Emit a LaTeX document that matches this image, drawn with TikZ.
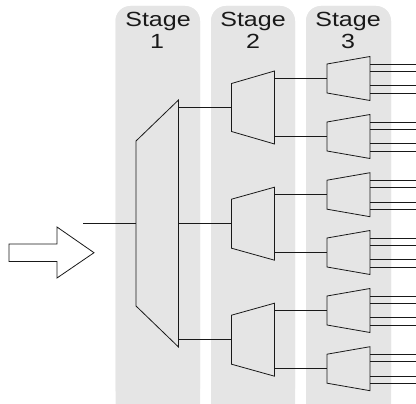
\documentclass[tikz,border=0pt]{standalone}
\usepackage{fontspec}
\setmainfont{Liberation Sans}
\definecolor{panel}{RGB}{229,229,229}
\definecolor{ink}{RGB}{25,25,25}
\tikzset{
  panelbox/.style={fill=panel,draw=none,rounded corners=15pt},
  stagetext/.style={anchor=base,inner sep=0pt,text=ink,xscale=1.22,font=\fontsize{20.5}{22}\selectfont},
  muxshape/.style={draw=ink,line width=0.8pt,line join=miter},
  wire/.style={draw=ink,line width=0.75pt},
  bigarrow/.style={draw=ink,line width=0.8pt,fill=white,line join=miter}
}
% name, xleft, xright, ycentre, left half height, right half height
\newcommand{\muxat}[6]{%
  \coordinate (#1-in) at (#2,#4);
  \coordinate (#1-out) at (#3,#4);
  \draw[muxshape] (#2,#4-#5) -- (#3,#4-#6) -- (#3,#4+#6) -- (#2,#4+#5) -- cycle;
}
% four output wires of a stage 3 unit
\newcommand{\outs}[1]{%
  \foreach \d/\n in {-14.6/a,-7.3/b,7.3/c,14.6/d}{
    \coordinate (#1-e\n) at (416,{\ypos{#1}+\d});
  }
}
\begin{document}
\begin{tikzpicture}[x=1pt,y=-1pt]
\useasboundingbox (0,0) rectangle (416,404);
\fill[panelbox] (115.5,6) rectangle (200,420);
\fill[panelbox] (211,6) rectangle (295,420);
\fill[panelbox] (306,6) rectangle (391,420);
\clip (0,0) rectangle (416,404);
\fill[panelbox] (115.5,6) rectangle (200,403.5);
\fill[panelbox] (211,6) rectangle (295,403.5);
\fill[panelbox] (306,6) rectangle (391,403.5);

\node[stagetext] (t1a) at (158,27) {Stage};
\node[stagetext] (t1b) at (157,49) {1};
\node[stagetext] (t2a) at (253,27) {Stage};
\node[stagetext] (t2b) at (253,49) {2};
\node[stagetext] (t3a) at (348,27) {Stage};
\node[stagetext] (t3b) at (348,49) {3};

% stage 1
\coordinate (m1-in) at (136,223.7);
\coordinate (m1-out) at (178.5,223.7);
\coordinate (src) at (83,223.7);
\draw[muxshape] (136,141) -- (178.5,100) -- (178.5,347) -- (136,306) -- cycle;

% stage 2
\muxat{a}{231.5}{274.5}{107.5}{24}{36.5}
\muxat{b}{231.5}{274.5}{223.7}{24.5}{36.5}
\muxat{c}{231.5}{274.5}{339.7}{24.5}{36.5}

% stage 3
\muxat{p}{327}{370}{78.5}{14.5}{22}
\muxat{q}{327}{370}{136.5}{14.5}{22}
\muxat{r}{327}{370}{194.7}{14.5}{22}
\muxat{s}{327}{370}{252.5}{14.5}{22}
\muxat{u}{327}{370}{310.5}{14.5}{22}
\muxat{v}{327}{370}{368.7}{14.5}{22}

% connectors
\draw[wire] (src) -- (m1-in);
\foreach \t in {a,b,c}{ \draw[wire] (m1-out |- \t-in) -- (\t-in); }
\foreach \f/\t in {a/p,a/q,b/r,b/s,c/u,c/v}{ \draw[wire] (\f-out |- \t-in) -- (\t-in); }
\foreach \t in {p,q,r,s,u,v}{
  \foreach \d in {-14.6,-7.3,7.3,14.6}{
    \draw[wire] ([yshift=\d pt]\t-out) -- ([yshift=\d pt]\t-out -| 416,0);
  }
}

% big input arrow
\draw[bigarrow] (9,244) -- (57,244) -- (57,227) -- (94,252.7) -- (57,278) -- (57,261.5) -- (9,261.5) -- cycle;
\end{tikzpicture}
\end{document}
